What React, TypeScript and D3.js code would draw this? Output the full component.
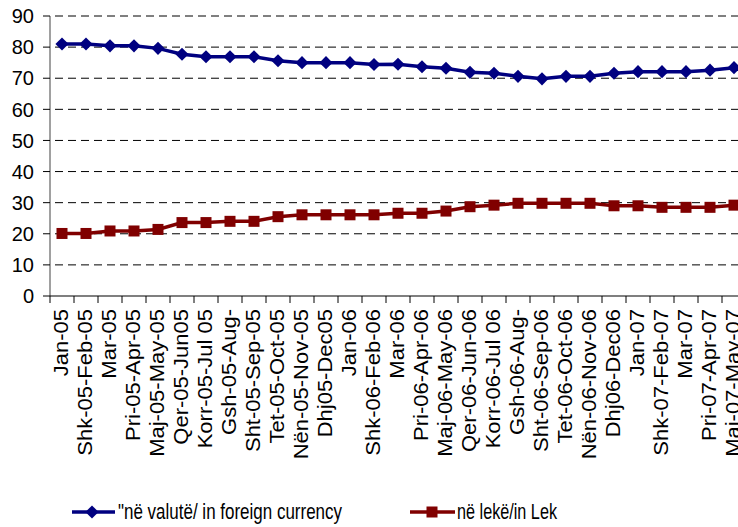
import React, { useEffect, useRef } from "react";
import * as d3 from "d3";

const months = [
  "Jan-05", "Shk-05-Feb-05", "Mar-05", "Pri-05-Apr-05", "Maj-05-May-05", "Qer-05-Jun05",
  "Korr-05-Jul 05", "Gsh-05-Aug-", "Sht-05-Sep-05", "Tet-05-Oct-05", "Nën-05-Nov-05",
  "Dhj05-Dec05", "Jan-06", "Shk-06-Feb-06", "Mar-06", "Pri-06-Apr-06", "Maj-06-May-06",
  "Qer-06-Jun-06", "Korr-06-Jul 06", "Gsh-06-Aug-", "Sht-06-Sep-06", "Tet-06-Oct-06",
  "Nën-06-Nov-06", "Dhj06-Dec06", "Jan-07", "Shk-07-Feb-07", "Mar-07", "Pri-07-Apr-07",
  "Maj-07-May-07",
];

const foreignCurrency = [
  81.0, 81.0, 80.4, 80.4, 79.6, 77.7, 76.9, 76.9, 76.9, 75.6, 75.0, 75.0, 75.0, 74.4,
  74.5, 73.7, 73.2, 71.9, 71.6, 70.6, 69.8, 70.6, 70.6, 71.6, 72.1, 72.1, 72.1, 72.6, 73.4,
];

const lek = [
  20.1, 20.1, 20.9, 20.9, 21.4, 23.6, 23.6, 24.0, 24.0, 25.5, 26.1, 26.1, 26.1, 26.1,
  26.6, 26.6, 27.3, 28.7, 29.2, 29.8, 29.8, 29.8, 29.8, 29.0, 29.0, 28.5, 28.5, 28.5, 29.2,
];

const yTicks = [0, 10, 20, 30, 40, 50, 60, 70, 80, 90];

const seriesNames = ["\"në valutë/ in foreign currency", "në lekë/in Lek"];

const BLUE = "#000080";
const RED = "#800000";
const FONT = "Arial, 'Liberation Sans', sans-serif";

const App = () => {
  const ref = useRef<SVGSVGElement>(null);

  useEffect(() => {
    const svg = d3.select(ref.current);
    svg.selectAll("*").remove();

    const left = 50;
    const bandW = 24;
    const right = left + months.length * bandW;
    const top = 16;
    const bottom = 296;

    const x = d3.scaleBand<string>().domain(months).range([left, right]);
    const y = d3.scaleLinear().domain([0, 90]).range([bottom, top]);
    const cx = (i: number) => (x(months[i]) as number) + x.bandwidth() / 2;

    // gridlines
    svg
      .append("g")
      .selectAll("line")
      .data(yTicks.filter((t) => t > 0))
      .enter()
      .append("line")
      .attr("x1", left)
      .attr("x2", right)
      .attr("y1", (d) => y(d))
      .attr("y2", (d) => y(d))
      .attr("stroke", "#000")
      .attr("stroke-width", 1)
      .attr("stroke-dasharray", "8,5")
      .attr("stroke-dashoffset", -5);

    // y axis
    const yAxis = svg.append("g");
    yAxis
      .append("line")
      .attr("x1", left)
      .attr("x2", left)
      .attr("y1", top)
      .attr("y2", bottom)
      .attr("stroke", "#808080")
      .attr("stroke-width", 1.5);
    yAxis
      .selectAll("line.tick")
      .data(yTicks)
      .enter()
      .append("line")
      .attr("class", "tick")
      .attr("x1", left - 7)
      .attr("x2", left)
      .attr("y1", (d) => y(d))
      .attr("y2", (d) => y(d))
      .attr("stroke", "#000");
    yAxis
      .selectAll("text")
      .data(yTicks)
      .enter()
      .append("text")
      .attr("x", 34)
      .attr("y", (d) => y(d))
      .attr("dy", "0.36em")
      .attr("text-anchor", "end")
      .attr("font-family", FONT)
      .attr("font-size", 20)
      .text((d) => d);

    // x axis
    const xAxis = svg.append("g");
    xAxis
      .append("line")
      .attr("x1", left)
      .attr("x2", right)
      .attr("y1", bottom)
      .attr("y2", bottom)
      .attr("stroke", "#000")
      .attr("stroke-width", 1.2);
    xAxis
      .selectAll("line.tick")
      .data(d3.range(months.length + 1))
      .enter()
      .append("line")
      .attr("class", "tick")
      .attr("x1", (i) => left + i * x.step())
      .attr("x2", (i) => left + i * x.step())
      .attr("y1", bottom)
      .attr("y2", bottom + 7)
      .attr("stroke", "#000");
    // labels are a bit stretched along their length in the original
    xAxis
      .selectAll("text")
      .data(months)
      .enter()
      .append("text")
      .attr("transform", (d, i) => `translate(${cx(i) + 6},${bottom + 13}) rotate(-90) scale(1.1,1)`)
      .attr("text-anchor", "end")
      .attr("font-family", FONT)
      .attr("font-size", 20)
      .text((d) => d);

    const line = d3
      .line<number>()
      .x((d, i) => cx(i))
      .y((d) => y(d));

    // foreign currency series
    svg
      .append("path")
      .datum(foreignCurrency)
      .attr("d", line)
      .attr("fill", "none")
      .attr("stroke", BLUE)
      .attr("stroke-width", 3.5);
    svg
      .append("g")
      .selectAll("path")
      .data(foreignCurrency)
      .enter()
      .append("path")
      .attr("d", d3.symbol(d3.symbolDiamond2, 110)())
      .attr("transform", (d, i) => `translate(${cx(i)},${y(d)})`)
      .attr("fill", BLUE);

    // lek series
    svg
      .append("path")
      .datum(lek)
      .attr("d", line)
      .attr("fill", "none")
      .attr("stroke", RED)
      .attr("stroke-width", 3.5);
    svg
      .append("g")
      .selectAll("rect")
      .data(lek)
      .enter()
      .append("rect")
      .attr("x", (d, i) => cx(i) - 5.5)
      .attr("y", (d) => y(d) - 5.5)
      .attr("width", 11)
      .attr("height", 11)
      .attr("fill", RED);

    // legend
    const legend = svg.append("g");
    const ly = 512;
    legend
      .append("line")
      .attr("x1", 72)
      .attr("x2", 115)
      .attr("y1", ly)
      .attr("y2", ly)
      .attr("stroke", BLUE)
      .attr("stroke-width", 3.5);
    legend
      .append("path")
      .attr("d", d3.symbol(d3.symbolDiamond2, 110)())
      .attr("transform", `translate(92,${ly})`)
      .attr("fill", BLUE);
    legend
      .append("text")
      .attr("x", 118)
      .attr("y", ly + 7)
      .attr("font-family", FONT)
      .attr("font-size", 22)
      .attr("textLength", 224)
      .attr("lengthAdjust", "spacingAndGlyphs")
      .text(seriesNames[0]);
    legend
      .append("line")
      .attr("x1", 410)
      .attr("x2", 455)
      .attr("y1", ly)
      .attr("y2", ly)
      .attr("stroke", RED)
      .attr("stroke-width", 3.5);
    legend
      .append("rect")
      .attr("x", 432 - 5.5)
      .attr("y", ly - 5.5)
      .attr("width", 11)
      .attr("height", 11)
      .attr("fill", RED);
    legend
      .append("text")
      .attr("x", 457)
      .attr("y", ly + 7)
      .attr("font-family", FONT)
      .attr("font-size", 22)
      .attr("textLength", 100)
      .attr("lengthAdjust", "spacingAndGlyphs")
      .text(seriesNames[1]);
  }, []);

  return (
    <svg
      ref={ref}
      width={738}
      height={527}
      style={{ position: "absolute", left: 0, top: 0, background: "#fff" }}
    ></svg>
  );
};

export default App;
